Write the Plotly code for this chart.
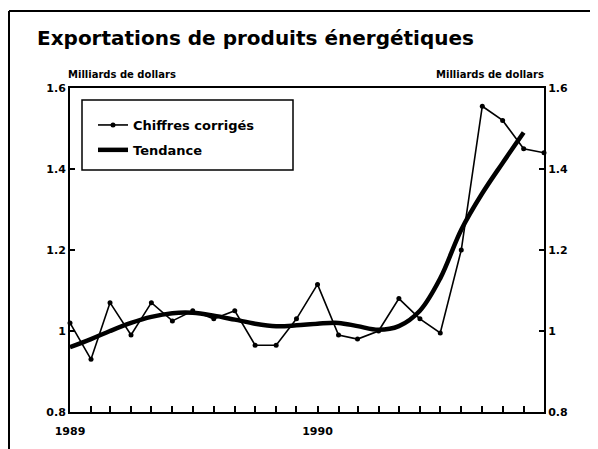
import plotly.graph_objects as go

# ---- data ----
months = [f"{y}-{m:02d}-01" for y in (1989, 1990) for m in range(1, 13)]
corrected = [1.02, 0.93, 1.07, 0.99, 1.07, 1.025, 1.05, 1.03, 1.05, 0.965, 0.965, 1.03,
             1.115, 0.99, 0.98, 1.00, 1.08, 1.03, 0.995, 1.20, 1.555, 1.52, 1.45, 1.44]
trend = [0.96, 0.98, 1.00, 1.02, 1.035, 1.044, 1.045, 1.038, 1.028, 1.018, 1.012, 1.014,
         1.018, 1.02, 1.012, 1.003, 1.012, 1.05, 1.13, 1.25, 1.34, 1.415, 1.49]
y_ticks = [0.8, 1.0, 1.2, 1.4, 1.6]
y_tick_labels = ["0.8", "1", "1.2", "1.4", "1.6"]
x_ticks = ["1989-01-01", "1990-01-01"]
x_tick_labels = ["1989", "1990"]

FONT = "DejaVu Sans"
OFF = 8  # page body margin
W, H = 598 - OFF, 449 - OFF
# plot area in screen pixels: x 70..544, y 88..412
L, R, T, B = 70 - OFF, 598 - 544, 88 - OFF, 449 - 412
PW, PH = W - L - R, H - T - B

def px_x(p):
    return (p - OFF - L) / PW

def px_y(p):
    return (H - B - (p - OFF)) / PH

fig = go.Figure()
fig.add_trace(go.Scatter(
    x=months, y=corrected, name="Chiffres corrigés", mode="lines+markers",
    line=dict(color="black", width=1.6), marker=dict(color="black", size=5),
    legendgroup="a", cliponaxis=False,
))
fig.add_trace(go.Scatter(
    x=months[:len(trend)], y=trend, name="Tendance", mode="lines",
    line=dict(color="black", width=4.5, shape="spline", smoothing=1),
    legendgroup="b", cliponaxis=False,
))
# invisible trace for the right axis
fig.add_trace(go.Scatter(x=months[:1], y=corrected[:1], yaxis="y2", mode="markers",
                         marker=dict(opacity=0), showlegend=False, hoverinfo="skip"))

axis_font = dict(family=FONT, size=11, color="black", weight="bold")

fig.update_layout(
    width=W, height=H,
    margin=dict(l=L, r=R, t=T, b=B, pad=0),
    paper_bgcolor="white", plot_bgcolor="white",
    font=dict(family=FONT, color="black"),
    showlegend=True,
    legend=dict(x=px_x(93), y=px_y(110), xanchor="left", yanchor="top",
                bgcolor="rgba(0,0,0,0)", borderwidth=0,
                font=dict(family=FONT, size=13, color="black", weight="bold"),
                itemwidth=30, tracegroupgap=5),
    xaxis=dict(
        type="date", range=["1989-01-01", "1990-12-01"],
        tickvals=x_ticks, ticktext=x_tick_labels, tickfont=axis_font,
        ticks="inside", ticklen=6, tickwidth=1.5, tickcolor="black",
        ticklabelstandoff=8,
        minor=dict(ticks="inside", dtick="M1", ticklen=6, tickwidth=1.5, tickcolor="black",
                   showgrid=False),
        showline=True, linecolor="black", linewidth=2, mirror=True,
        showgrid=False, zeroline=False, fixedrange=True,
    ),
    yaxis=dict(
        range=[0.8, 1.6], tickvals=y_ticks, ticktext=y_tick_labels, tickfont=axis_font,
        ticks="inside", ticklen=5, tickwidth=1.5, tickcolor="black",
        showline=True, linecolor="black", linewidth=2,
        showgrid=False, zeroline=False,
    ),
    yaxis2=dict(
        range=[0.8, 1.6], overlaying="y", side="right",
        tickvals=y_ticks, ticktext=y_tick_labels, tickfont=axis_font,
        ticks="inside", ticklen=5, tickwidth=1.5, tickcolor="black",
        showline=True, linecolor="black", linewidth=2,
        showgrid=False, zeroline=False,
    ),
)

# outer frame
fig.add_shape(type="line", xref="paper", yref="paper",
              x0=px_x(9), x1=px_x(640), y0=px_y(11), y1=px_y(11),
              line=dict(color="black", width=2))
fig.add_shape(type="line", xref="paper", yref="paper",
              x0=px_x(9), x1=px_x(9), y0=px_y(11), y1=px_y(480),
              line=dict(color="black", width=2))
# legend box
fig.add_shape(type="rect", xref="paper", yref="paper",
              x0=px_x(82), x1=px_x(293), y0=px_y(100), y1=px_y(170),
              line=dict(color="black", width=1.5), fillcolor="rgba(0,0,0,0)")

# title and axis captions
fig.add_annotation(text="Exportations de produits énergétiques", xref="paper", yref="paper",
                   x=px_x(35), y=px_y(38), xanchor="left", yanchor="middle", showarrow=False,
                   font=dict(family=FONT, size=20, color="black", weight="bold"))
fig.add_annotation(text="Milliards de dollars", xref="paper", yref="paper",
                   x=px_x(66), y=px_y(74), xanchor="left", yanchor="middle", showarrow=False,
                   font=dict(family=FONT, size=10, color="black", weight="bold"))
fig.add_annotation(text="Milliards de dollars", xref="paper", yref="paper",
                   x=px_x(546), y=px_y(74), xanchor="right", yanchor="middle", showarrow=False,
                   font=dict(family=FONT, size=10, color="black", weight="bold"))

fig.write_html("out.html")
